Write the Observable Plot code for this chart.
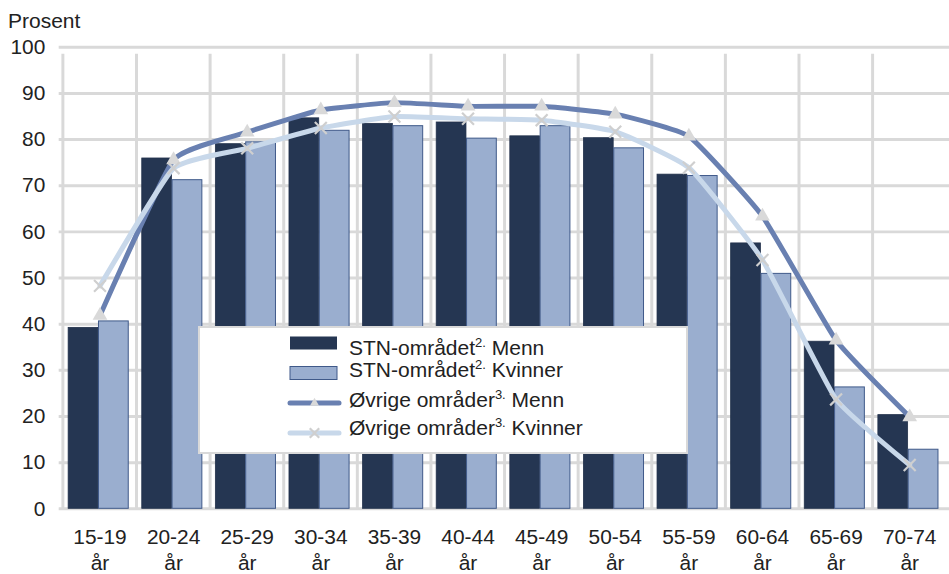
<!DOCTYPE html>
<html>
<head>
<meta charset="utf-8">
<script src="https://cdn.jsdelivr.net/npm/d3@7"></script>
<script src="https://cdn.jsdelivr.net/npm/@observablehq/plot@0.6"></script>
<style>
  html, body { margin: 0; padding: 0; background: #fff; overflow: hidden; }
  #wrap { position: relative; width: 949px; height: 574px; overflow: hidden; font-family: "Liberation Sans", Arial, sans-serif; color: #222; }
  #wrap svg { font-family: "Liberation Sans", Arial, sans-serif; }
  #overlay { position: absolute; left: 0; top: 0; pointer-events: none; }
</style>
</head>
<body>
<div id="wrap"></div>
<script>
// ---- data ----
const ages = ["15-19", "20-24", "25-29", "30-34", "35-39", "40-44", "45-49", "50-54", "55-59", "60-64", "65-69", "70-74"];
const ageUnit = "år";
const stnMenn    = [39.2, 75.9, 79.0, 84.6, 83.4, 83.7, 80.7, 80.3, 72.4, 57.5, 36.2, 20.3];
const stnKvinner = [40.6, 71.2, 79.4, 81.9, 82.9, 80.2, 82.9, 78.1, 72.1, 50.9, 26.3, 12.8];
const ovrMenn    = [41.9, 75.6, 81.6, 86.4, 88.0, 87.2, 87.2, 85.5, 80.7, 63.4, 36.5, 19.9];
const ovrKvinner = [48.3, 73.8, 78.1, 82.5, 85.0, 84.5, 84.2, 81.7, 73.9, 53.9, 23.7, 9.5];
const yTicks = [0, 10, 20, 30, 40, 50, 60, 70, 80, 90, 100];
const yLabel = "Prosent";
const legendNames = ["STN-området", "STN-området", "Øvrige områder", "Øvrige områder"];
const legendNotes = ["2.", "2.", "3.", "3."];
const legendSexes = ["Menn", "Kvinner", "Menn", "Kvinner"];

// ---- style ----
const C = {
  dark: "#253652", light: "#9aaecf", lightStroke: "#3f5989",
  lineM: "#6980b1", lineK: "#c8d8ea", marker: "#d9d9d9", grid: "#d9d9d9", text: "#222"
};
const W = 954, H = 574, mL = 59, mR = 0, mT = 47, mB = 63;
const bw = (W - mL - mR) / ages.length;
const half = 30.5;

const chart = Plot.plot({
  width: W, height: H,
  marginLeft: mL, marginRight: mR, marginTop: mT, marginBottom: mB,
  style: { fontFamily: "Liberation Sans, Arial, sans-serif", fontSize: "21px", color: C.text, background: "#fff" },
  x: { type: "band", domain: ages, padding: 0 },
  y: { domain: [0, 100] },
  marks: [
    Plot.ruleY(yTicks, { y: d => d, stroke: C.grid, strokeWidth: 3 }),
    Plot.ruleX(ages, { x: d => d, dx: -bw / 2, y1: 0, y2: 100, insetBottom: -7, stroke: C.grid, strokeWidth: 3 }),
    Plot.barY(ages, { x: d => d, y: (d, i) => stnMenn[i], fill: C.dark, stroke: "#22314b", strokeWidth: 0.8,
      insetLeft: 5.5, insetRight: bw - 5.5 - half }),
    Plot.barY(ages, { x: d => d, y: (d, i) => stnKvinner[i], fill: C.light, stroke: C.lightStroke, strokeWidth: 1,
      insetLeft: 5.5 + half, insetRight: bw - 5.5 - 2 * half }),
    Plot.line(ages, { x: d => d, y: (d, i) => ovrMenn[i], curve: "cardinal", tension: 0.6, stroke: C.lineM, strokeWidth: 5 }),
    Plot.line(ages, { x: d => d, y: (d, i) => ovrKvinner[i], curve: "cardinal", tension: 0.6, stroke: C.lineK, strokeWidth: 5 }),
    Plot.dot(ages, { x: d => d, y: (d, i) => ovrMenn[i], symbol: "triangle", fill: C.marker, r: 5.5 }),
    Plot.dot(ages, { x: d => d, y: (d, i) => ovrKvinner[i], symbol: "times", stroke: "#cfcfcf", strokeWidth: 2.2, r: 5.5 }),
    Plot.axisY(yTicks, { tickSize: 0, tickPadding: 14, fontSize: 21, label: null, fill: C.text }),
    Plot.axisX({ tickSize: 0, tickPadding: 16, fontSize: 21, lineHeight: 1.28, label: null, fill: C.text,
      tickFormat: d => d + "\n" + ageUnit })
  ]
});
const wrap = document.getElementById("wrap");
wrap.appendChild(chart);

// ---- overlay: y label + legend ----
const ov = d3.select(wrap).append("svg").attr("id", "overlay").attr("width", 949).attr("height", 574)
  .style("font-family", "Liberation Sans, Arial, sans-serif");
ov.append("text").attr("x", 8).attr("y", 28).attr("font-size", 21).attr("fill", C.text).text(yLabel);

const L = { x: 199, y: 327, w: 488, h: 126 };
ov.append("rect").attr("x", L.x).attr("y", L.y).attr("width", L.w).attr("height", L.h)
  .attr("fill", "#fff").attr("stroke", C.grid).attr("stroke-width", 2);
const rowC = [343, 373, 403, 433];
const rowBase = [355, 377, 407, 435];
// swatches
ov.append("rect").attr("x", 290).attr("y", rowC[0] - 6.5).attr("width", 47).attr("height", 13).attr("fill", C.dark);
ov.append("rect").attr("x", 290).attr("y", rowC[1] - 6.5).attr("width", 47).attr("height", 13).attr("fill", C.light).attr("stroke", C.lightStroke).attr("stroke-width", 1);
ov.append("line").attr("x1", 290).attr("x2", 339).attr("y1", rowC[2]).attr("y2", rowC[2]).attr("stroke", C.lineM).attr("stroke-width", 5).attr("stroke-linecap", "round");
ov.append("path").attr("d", d3.symbol(d3.symbolTriangle2, 60)()).attr("transform", `translate(314.5,${rowC[2]})`).attr("fill", C.marker);
ov.append("line").attr("x1", 290).attr("x2", 339).attr("y1", rowC[3]).attr("y2", rowC[3]).attr("stroke", C.lineK).attr("stroke-width", 5).attr("stroke-linecap", "round");
ov.append("path").attr("d", d3.symbol(d3.symbolTimes, 60)()).attr("transform", `translate(314.5,${rowC[3]})`).attr("fill", "none").attr("stroke", "#cfcfcf").attr("stroke-width", 2.2);
legendNames.forEach((n, i) => {
  const t = ov.append("text").attr("x", 349).attr("y", rowBase[i]).attr("font-size", 21).attr("fill", C.text);
  t.append("tspan").text(n);
  t.append("tspan").attr("font-size", 13).attr("dy", -8).text(legendNotes[i]);
  t.append("tspan").attr("dy", 8).text(" " + legendSexes[i]);
});
</script>
</body>
</html>
